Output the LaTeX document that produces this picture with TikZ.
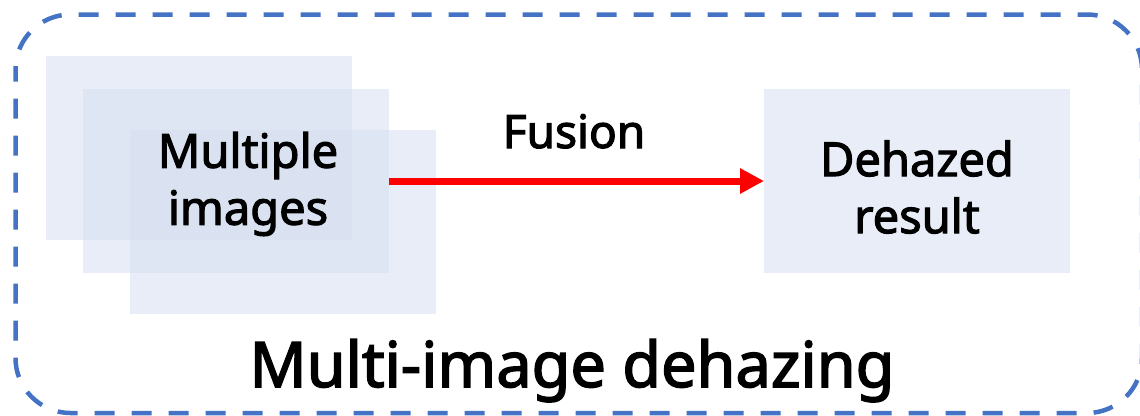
\documentclass[tikz,border=0pt]{standalone}
\usepackage{fontspec}
\setmainfont{Noto Sans}[FakeBold=2.4]
\usetikzlibrary{arrows.meta}
\definecolor{frameblue}{HTML}{4472C4}
\definecolor{panelfill}{HTML}{D6DFF0}
\definecolor{arrowred}{HTML}{FF0000}
\tikzset{
  panel/.style={fill=panelfill, fill opacity=0.55, draw=none,
    minimum width=306pt, minimum height=184pt, inner sep=0pt, outer sep=0pt},
  caption/.style={text=black, align=center, inner sep=0pt,
    font=\fontsize{47}{57}\bfseries\selectfont},
  flow/.style={draw=arrowred, line width=7pt,
    -{Triangle[length=24pt,width=24pt]}},
  frameline/.style={draw=frameblue, line width=4.5pt, rounded corners=55pt,
    dash pattern=on 20pt off 17pt, dash phase=8pt}
}
\begin{document}
\begin{tikzpicture}[x=1pt, y=-1pt]
  \useasboundingbox (0,0) rectangle (1140,415);
  % dashed outer frame
  \draw[frameline] (15.5,14.5) rectangle (1142,413);
  % stack of input images
  \node[panel] (imgA) at (199,148) {};
  \node[panel] (imgB) at (236,181) {};
  \node[panel] (imgC) at (283,222) {};
  \node[caption] (inlabel) at (248,184) {Multiple\\images};
  % output
  \node[panel] (res) at (917,181) {};
  \node[caption] (outlabel) at (917,187) {Dehazed\\result};
  % fusion arrow
  \draw[flow] (imgB.east) -- (res.west);
  \node[font=\fontsize{46}{55}\bfseries\selectfont, anchor=base] (fuse) at (574,148) {Fusion};
  % title
  \node[font=\fontsize{63}{75}\bfseries\selectfont, anchor=base] (title) at (572,387) {Multi-image dehazing};
\end{tikzpicture}
\end{document}
